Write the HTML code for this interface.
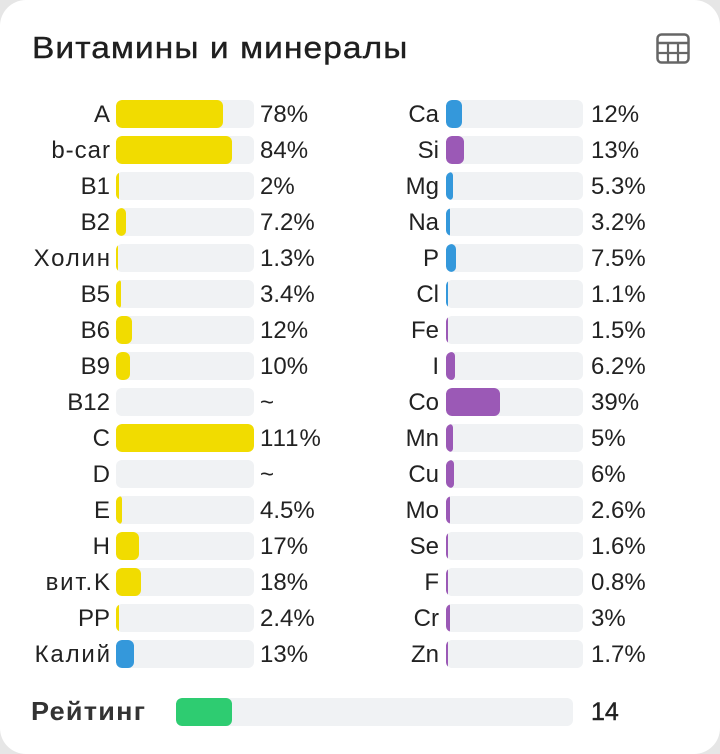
<!DOCTYPE html>
<html><head><meta charset="utf-8"><style>
html,body{margin:0;padding:0;}
body{width:720px;height:754px;background:#e6e6e6;position:relative;overflow:hidden;font-family:"Liberation Sans","Noto Sans CJK SC",sans-serif;color:#222;}
.card{position:absolute;left:0;top:0;width:720px;height:754px;background:#fff;border-radius:26px;}
.t{position:absolute;left:32px;top:28px;font-size:31px;line-height:40px;color:#1f1f1f;-webkit-text-stroke:0.4px #1f1f1f;letter-spacing:1px;white-space:nowrap;transform:scaleX(1.08);transform-origin:0 0;}
.lbl{position:absolute;font-size:24px;line-height:36px;text-align:right;white-space:nowrap;color:#222;}
.cy{letter-spacing:1.8px;margin-right:-1.8px;}
.val{position:absolute;font-size:24px;line-height:36px;white-space:nowrap;color:#222;}
.tr{position:absolute;height:28px;background:#f0f2f4;border-radius:6px;overflow:hidden;}
.f{position:absolute;left:0;top:0;height:28px;border-radius:6px;}
.y{background:#f1dc00}.b{background:#3498db}.p{background:#9b59b6}.g{background:#2ecc71}
</style></head><body>
<div class="card">
<div class="t">Витамины и минералы</div>
<svg style="position:absolute;left:656px;top:33px" width="34" height="31" viewBox="0 0 34 31">
<rect x="1.5" y="1.5" width="31" height="28" rx="4" fill="none" stroke="#666" stroke-width="2.5"/>
<line x1="1.5" y1="10" x2="32.5" y2="10" stroke="#666" stroke-width="2.5"/>
<line x1="1.5" y1="20" x2="32.5" y2="20" stroke="#666" stroke-width="2.2"/>
<line x1="12" y1="10" x2="12" y2="29.5" stroke="#666" stroke-width="2.2"/>
<line x1="22" y1="10" x2="22" y2="29.5" stroke="#666" stroke-width="2.2"/>
</svg>

<!-- left column -->
<div class="lbl" style="right:610px;top:97px">A</div><div class="tr" style="left:116px;top:100px;width:138px"><div class="f y" style="width:107px"></div></div><div class="val" style="left:260px;top:97px">78%</div>
<div class="lbl" style="right:610px;top:133px;letter-spacing:1px;margin-right:-1px">b-car</div><div class="tr" style="left:116px;top:136px;width:138px"><div class="f y" style="width:116px"></div></div><div class="val" style="left:260px;top:133px">84%</div>
<div class="lbl" style="right:610px;top:169px">B1</div><div class="tr" style="left:116px;top:172px;width:138px"><div class="f y" style="width:3px;border-radius:2px"></div></div><div class="val" style="left:260px;top:169px">2%</div>
<div class="lbl" style="right:610px;top:205px">B2</div><div class="tr" style="left:116px;top:208px;width:138px"><div class="f y" style="width:10px"></div></div><div class="val" style="left:260px;top:205px">7.2%</div>
<div class="lbl cy" style="right:610px;top:241px">Холин</div><div class="tr" style="left:116px;top:244px;width:138px"><div class="f y" style="width:2px;border-radius:1px"></div></div><div class="val" style="left:260px;top:241px">1.3%</div>
<div class="lbl" style="right:610px;top:277px">B5</div><div class="tr" style="left:116px;top:280px;width:138px"><div class="f y" style="width:5px;border-radius:3px"></div></div><div class="val" style="left:260px;top:277px">3.4%</div>
<div class="lbl" style="right:610px;top:313px">B6</div><div class="tr" style="left:116px;top:316px;width:138px"><div class="f y" style="width:16px"></div></div><div class="val" style="left:260px;top:313px">12%</div>
<div class="lbl" style="right:610px;top:349px">B9</div><div class="tr" style="left:116px;top:352px;width:138px"><div class="f y" style="width:14px"></div></div><div class="val" style="left:260px;top:349px">10%</div>
<div class="lbl" style="right:610px;top:385px">B12</div><div class="tr" style="left:116px;top:388px;width:138px"></div><div class="val" style="left:260px;top:385px">~</div>
<div class="lbl" style="right:610px;top:421px">C</div><div class="tr" style="left:116px;top:424px;width:138px"><div class="f y" style="width:138px"></div></div><div class="val" style="left:260px;top:421px;letter-spacing:1px">111%</div>
<div class="lbl" style="right:610px;top:457px">D</div><div class="tr" style="left:116px;top:460px;width:138px"></div><div class="val" style="left:260px;top:457px">~</div>
<div class="lbl" style="right:610px;top:493px">E</div><div class="tr" style="left:116px;top:496px;width:138px"><div class="f y" style="width:6px;border-radius:3px"></div></div><div class="val" style="left:260px;top:493px">4.5%</div>
<div class="lbl" style="right:610px;top:529px">H</div><div class="tr" style="left:116px;top:532px;width:138px"><div class="f y" style="width:23px"></div></div><div class="val" style="left:260px;top:529px">17%</div>
<div class="lbl cy" style="right:610px;top:565px">вит.K</div><div class="tr" style="left:116px;top:568px;width:138px"><div class="f y" style="width:25px"></div></div><div class="val" style="left:260px;top:565px">18%</div>
<div class="lbl" style="right:610px;top:601px">PP</div><div class="tr" style="left:116px;top:604px;width:138px"><div class="f y" style="width:3px;border-radius:2px"></div></div><div class="val" style="left:260px;top:601px">2.4%</div>
<div class="lbl cy" style="right:610px;top:637px">Калий</div><div class="tr" style="left:116px;top:640px;width:138px"><div class="f b" style="width:18px"></div></div><div class="val" style="left:260px;top:637px">13%</div>

<!-- right column -->
<div class="lbl" style="right:281px;top:97px">Ca</div><div class="tr" style="left:446px;top:100px;width:137px"><div class="f b" style="width:16px"></div></div><div class="val" style="left:591px;top:97px">12%</div>
<div class="lbl" style="right:281px;top:133px">Si</div><div class="tr" style="left:446px;top:136px;width:137px"><div class="f p" style="width:18px"></div></div><div class="val" style="left:591px;top:133px">13%</div>
<div class="lbl" style="right:281px;top:169px">Mg</div><div class="tr" style="left:446px;top:172px;width:137px"><div class="f b" style="width:7px;border-radius:4px"></div></div><div class="val" style="left:591px;top:169px">5.3%</div>
<div class="lbl" style="right:281px;top:205px">Na</div><div class="tr" style="left:446px;top:208px;width:137px"><div class="f b" style="width:4px;border-radius:2px"></div></div><div class="val" style="left:591px;top:205px">3.2%</div>
<div class="lbl" style="right:281px;top:241px">P</div><div class="tr" style="left:446px;top:244px;width:137px"><div class="f b" style="width:10px"></div></div><div class="val" style="left:591px;top:241px">7.5%</div>
<div class="lbl" style="right:281px;top:277px">Cl</div><div class="tr" style="left:446px;top:280px;width:137px"><div class="f b" style="width:2px;border-radius:1px"></div></div><div class="val" style="left:591px;top:277px">1.1%</div>
<div class="lbl" style="right:281px;top:313px">Fe</div><div class="tr" style="left:446px;top:316px;width:137px"><div class="f p" style="width:2px;border-radius:1px"></div></div><div class="val" style="left:591px;top:313px">1.5%</div>
<div class="lbl" style="right:281px;top:349px">I</div><div class="tr" style="left:446px;top:352px;width:137px"><div class="f p" style="width:9px;border-radius:4px"></div></div><div class="val" style="left:591px;top:349px">6.2%</div>
<div class="lbl" style="right:281px;top:385px">Co</div><div class="tr" style="left:446px;top:388px;width:137px"><div class="f p" style="width:54px"></div></div><div class="val" style="left:591px;top:385px">39%</div>
<div class="lbl" style="right:281px;top:421px">Mn</div><div class="tr" style="left:446px;top:424px;width:137px"><div class="f p" style="width:7px;border-radius:4px"></div></div><div class="val" style="left:591px;top:421px">5%</div>
<div class="lbl" style="right:281px;top:457px">Cu</div><div class="tr" style="left:446px;top:460px;width:137px"><div class="f p" style="width:8px;border-radius:4px"></div></div><div class="val" style="left:591px;top:457px">6%</div>
<div class="lbl" style="right:281px;top:493px">Mo</div><div class="tr" style="left:446px;top:496px;width:137px"><div class="f p" style="width:4px;border-radius:2px"></div></div><div class="val" style="left:591px;top:493px">2.6%</div>
<div class="lbl" style="right:281px;top:529px">Se</div><div class="tr" style="left:446px;top:532px;width:137px"><div class="f p" style="width:2px;border-radius:1px"></div></div><div class="val" style="left:591px;top:529px">1.6%</div>
<div class="lbl" style="right:281px;top:565px">F</div><div class="tr" style="left:446px;top:568px;width:137px"><div class="f p" style="width:1.5px;border-radius:1px"></div></div><div class="val" style="left:591px;top:565px">0.8%</div>
<div class="lbl" style="right:281px;top:601px">Cr</div><div class="tr" style="left:446px;top:604px;width:137px"><div class="f p" style="width:4px;border-radius:2px"></div></div><div class="val" style="left:591px;top:601px">3%</div>
<div class="lbl" style="right:281px;top:637px">Zn</div><div class="tr" style="left:446px;top:640px;width:137px"><div class="f p" style="width:2px;border-radius:1px"></div></div><div class="val" style="left:591px;top:637px">1.7%</div>

<!-- rating -->
<div style="position:absolute;left:31px;top:693px;font-size:26px;line-height:36px;font-weight:bold;color:#333;white-space:nowrap;letter-spacing:1.2px;transform:scaleX(1.04);transform-origin:0 0">Рейтинг</div>
<div class="tr" style="left:176px;top:698px;width:397px"><div class="f g" style="width:56px"></div></div>
<div style="position:absolute;left:591px;top:694px;font-size:25px;line-height:36px;color:#222;-webkit-text-stroke:0.4px #222">14</div>
</div>
</body></html>
